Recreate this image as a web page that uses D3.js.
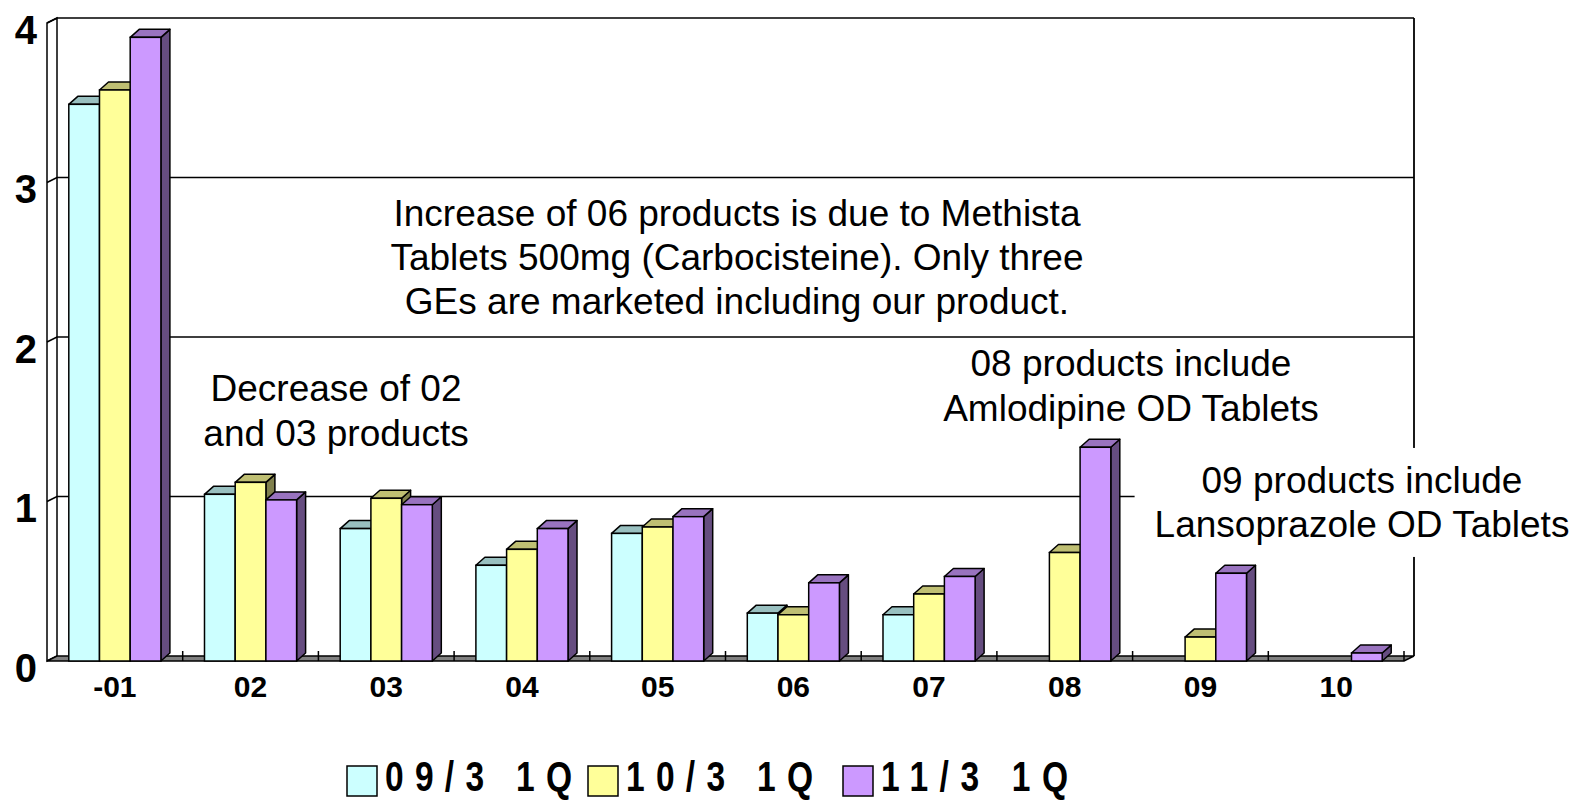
<!DOCTYPE html>
<html>
<head>
<meta charset="utf-8">
<script src="https://cdn.jsdelivr.net/npm/d3@7"></script>
<style>
  html, body { margin: 0; padding: 0; background: #fff; }
  svg { display: block; }
</style>
</head>
<body>
<svg id="chart" width="1590" height="801"></svg>
<script>
// ---- data ----
const categories = ["-01", "02", "03", "04", "05", "06", "07", "08", "09", "10"];
const seriesNames = ["09/3 1Q", "10/3 1Q", "11/3 1Q"];
const values0903 = [3.49, 1.045, 0.83, 0.60, 0.80, 0.30, 0.29, 0, 0, 0];
const values1003 = [3.58, 1.12, 1.02, 0.70, 0.84, 0.29, 0.42, 0.68, 0.15, 0];
const values1103 = [3.91, 1.01, 0.98, 0.83, 0.905, 0.49, 0.53, 1.34, 0.55, 0.05];
const yTicks = [0, 1, 2, 3, 4];
const annotations = [
  { lines: ["Increase of 06 products is due to Methista", "Tablets 500mg (Carbocisteine). Only three", "GEs are marketed including our product."], cx: 737, cy: [213, 257, 301], box: false },
  { lines: ["Decrease of 02", "and 03 products"], cx: 336, cy: [388, 433], box: false },
  { lines: ["08 products include", "Amlodipine OD Tablets"], cx: 1131, cy: [363, 408], box: false },
  { lines: ["09 products include", "Lansoprazole OD Tablets"], cx: 1362, cy: [480, 524], box: true }
];

// ---- styling ----
const colors = [
  { front: "#CCFFFF", top: "#99C0C0", side: "#668080" },
  { front: "#FFFF99", top: "#BFBF73", side: "#80804D" },
  { front: "#CC99FF", top: "#9973BF", side: "#664D80" }
];
const seriesValues = [values0903, values1003, values1103];

const svg = d3.select("#chart");
const left = 47, right = 1404;
const wallDx = 10, wallDy = -5;   // back wall offset
const barDx = 9, barDy = -8;      // bar depth offset

const x0 = d3.scaleBand().domain(categories).range([left, right]).padding(0);
const x1 = d3.scaleBand().domain(seriesNames).range([0, x0.bandwidth()]).paddingInner(0).paddingOuter(0.71);
const y = d3.scaleLinear().domain([0, 4]).range([661, 23]);

const g = svg.append("g");

// side wall (left)
g.append("path")
  .attr("d", `M${left},${y(0)} L${left},${y(4)} L${left + wallDx},${y(4) + wallDy} L${left + wallDx},${y(0) + wallDy} Z`)
  .attr("fill", "#fff").attr("stroke", "#000").attr("stroke-width", 1.5);

// gridlines (back wall + side wall)
yTicks.forEach(v => {
  if (v === 0) return;
  g.append("path")
    .attr("d", `M${left},${y(v)} L${left + wallDx},${y(v) + wallDy} L${right + wallDx},${y(v) + wallDy}`)
    .attr("fill", "none").attr("stroke", "#000").attr("stroke-width", 1.6);
});
// back wall right edge
g.append("line")
  .attr("x1", right + wallDx).attr("x2", right + wallDx)
  .attr("y1", y(4) + wallDy).attr("y2", y(0) + wallDy)
  .attr("stroke", "#000").attr("stroke-width", 1.8);

// floor
g.append("path")
  .attr("d", `M${left},${y(0)} L${right},${y(0)} L${right + wallDx},${y(0) + wallDy} L${left + wallDx},${y(0) + wallDy} Z`)
  .attr("fill", "#808080").attr("stroke", "#000").attr("stroke-width", 1.5);

// category ticks
categories.forEach((c, i) => {
  if (i === 0) return;
  const xx = x0(c);
  g.append("line").attr("x1", xx).attr("x2", xx).attr("y1", y(0) - 10).attr("y2", y(0))
    .attr("stroke", "#000").attr("stroke-width", 1.5);
});
g.append("line").attr("x1", right).attr("x2", right).attr("y1", y(0) - 10).attr("y2", y(0))
  .attr("stroke", "#000").attr("stroke-width", 1.5);

// bars
categories.forEach((c, i) => {
  seriesNames.forEach((s, k) => {
    const v = seriesValues[k][i];
    if (!v) return;
    const xl = x0(c) + x1(s);
    const xr = xl + x1.bandwidth();
    const yt = y(v), yb = y(0);
    const col = colors[k];
    const bg = g.append("g");
    bg.append("path")
      .attr("d", `M${xr},${yb} L${xr + barDx},${yb + barDy} L${xr + barDx},${yt + barDy} L${xr},${yt} Z`)
      .attr("fill", col.side).attr("stroke", "#000").attr("stroke-width", 1.5).attr("stroke-linejoin", "round");
    bg.append("path")
      .attr("d", `M${xl},${yt} L${xl + barDx},${yt + barDy} L${xr + barDx},${yt + barDy} L${xr},${yt} Z`)
      .attr("fill", col.top).attr("stroke", "#000").attr("stroke-width", 1.5).attr("stroke-linejoin", "round");
    bg.append("rect")
      .attr("x", xl).attr("y", yt).attr("width", xr - xl).attr("height", yb - yt)
      .attr("fill", col.front).attr("stroke", "#000").attr("stroke-width", 1.5);
  });
});

// annotations
const annFont = 37;
annotations.forEach(a => {
  const tg = svg.append("g");
  const texts = a.lines.map((l, j) => tg.append("text")
    .attr("x", a.cx).attr("y", a.cy[j] + annFont * 0.35)
    .attr("text-anchor", "middle")
    .attr("font-family", "'Liberation Sans', Arial, sans-serif")
    .attr("font-size", annFont).attr("fill", "#000").text(l));
  if (a.box) {
    let bb = null;
    texts.forEach(t => {
      const b = t.node().getBBox();
      if (!bb) bb = { x0: b.x, y0: b.y, x1: b.x + b.width, y1: b.y + b.height };
      else { bb.x0 = Math.min(bb.x0, b.x); bb.y0 = Math.min(bb.y0, b.y); bb.x1 = Math.max(bb.x1, b.x + b.width); bb.y1 = Math.max(bb.y1, b.y + b.height); }
    });
    tg.insert("rect", "text")
      .attr("x", bb.x0 - 20).attr("y", bb.y0 - 12)
      .attr("width", bb.x1 - bb.x0 + 40).attr("height", bb.y1 - bb.y0 + 24)
      .attr("fill", "#fff");
  }
});

// y axis labels
yTicks.forEach(v => {
  svg.append("text")
    .attr("x", 37).attr("y", y(v) + 6 + 14.5)
    .attr("text-anchor", "end")
    .attr("font-family", "'Liberation Sans', Arial, sans-serif")
    .attr("font-weight", "bold").attr("font-size", 40)
    .text(v);
});

// x axis labels
categories.forEach(c => {
  svg.append("text")
    .attr("x", x0(c) + x0.bandwidth() / 2).attr("y", 697)
    .attr("text-anchor", "middle")
    .attr("font-family", "'Liberation Sans', Arial, sans-serif")
    .attr("font-weight", "bold").attr("font-size", 30)
    .text(c);
});

// legend
const legendX = [347, 588, 843];
const legendTextW = 187;
const squeeze = 0.78;
seriesNames.forEach((s, k) => {
  svg.append("rect")
    .attr("x", legendX[k]).attr("y", 766).attr("width", 30).attr("height", 30)
    .attr("fill", colors[k].front).attr("stroke", "#000").attr("stroke-width", 1.5);
  const tx = legendX[k] + 38;
  svg.append("text")
    .attr("transform", `translate(${tx},791) scale(${squeeze},1)`)
    .attr("x", 0).attr("y", 0)
    .attr("font-family", "'Liberation Sans', Arial, sans-serif")
    .attr("font-weight", "bold").attr("font-size", 43)
    .attr("textLength", legendTextW / squeeze).attr("lengthAdjust", "spacing")
    .text(s);
});
</script>
</body>
</html>
